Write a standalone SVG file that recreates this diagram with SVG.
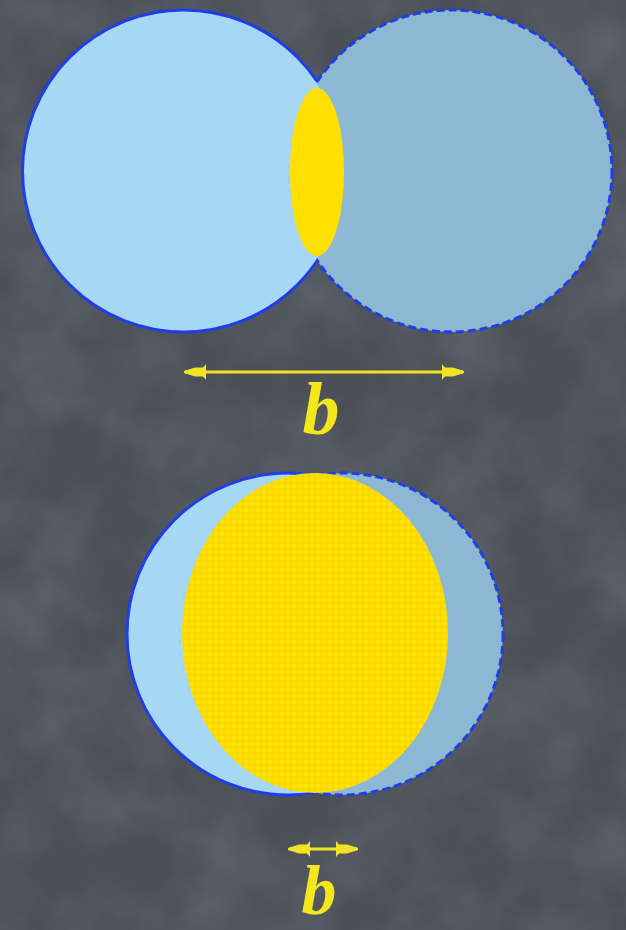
<svg xmlns="http://www.w3.org/2000/svg" width="626" height="930" viewBox="0 0 626 930">
  <style>
    .c-left { fill: #a6d7f3; stroke: #1f3ee8; stroke-width: 3; }
    .c-right { fill: #8cb8d4; stroke: #1f3ee8; stroke-width: 3; stroke-dasharray: 8 4; }
    .fill-left { fill: #a6d7f3; }
    .lens { fill: #ffe000; }
    .arrow { stroke: #f2e424; stroke-width: 3; fill: none; marker-start: url(#head); marker-end: url(#head); }
    .label { font-family: "Liberation Serif", "DejaVu Serif", serif; font-style: italic; font-weight: bold; font-size: 74px; fill: #f4e81c; text-anchor: middle; }
  </style>
  <defs>
    <marker id="head" viewBox="0 0 22 16" refX="21" refY="8" markerWidth="22" markerHeight="16" markerUnits="userSpaceOnUse" orient="auto-start-reverse">
      <path d="M0,0 L3,3.5 L11,3.5 L22,7 L22,9 L11,12.5 L3,12.5 L0,16 Z" fill="#f2e424"/>
    </marker>
    <filter id="noise" x="0" y="0" width="100%" height="100%">
      <feTurbulence type="fractalNoise" baseFrequency="0.012" numOctaves="4" seed="7"/>
      <feColorMatrix type="matrix" values="0 0 0 0 1  0 0 0 0 1  0 0 0 0 1  0.2 0 0 0 -0.07"/>
    </filter>
    <pattern id="check" width="6" height="6" patternUnits="userSpaceOnUse">
      <rect width="6" height="6" fill="#ffe200"/>
      <path d="M3,0 L6,3 L3,6 L0,3 Z" fill="#f5d200" opacity="0.6"/>
    </pattern>
    <clipPath id="clipTopRight"><circle cx="451" cy="171" r="163"/></clipPath>
    <clipPath id="clipBotRight"><circle cx="342" cy="634" r="163"/></clipPath>
  </defs>

  <rect width="626" height="930" fill="#4b4f58"/>
  <rect width="626" height="930" filter="url(#noise)"/>

  <g id="top-circle-left">
    <circle class="c-left" cx="183.5" cy="171" r="161"/>
  </g>
  <g id="top-circle-right">
    <circle class="c-right" cx="451" cy="171" r="161"/>
    <circle class="fill-left" cx="183.5" cy="171" r="159.5" clip-path="url(#clipTopRight)"/>
  </g>
  <g id="top-overlap">
    <ellipse class="lens" cx="317" cy="172" rx="27" ry="84"/>
  </g>

  <g id="bottom-circle-left">
    <circle class="c-left" cx="288" cy="634" r="161"/>
  </g>
  <g id="bottom-circle-right">
    <circle class="c-right" cx="342" cy="634" r="161"/>
    <circle class="fill-left" cx="288" cy="634" r="159.5" clip-path="url(#clipBotRight)"/>
  </g>
  <g id="bottom-overlap">
    <ellipse cx="315" cy="633" rx="133" ry="160" fill="url(#check)"/>
  </g>

  <g id="connectors">
    <line class="arrow" x1="185" y1="372" x2="463" y2="372"/>
    <line class="arrow" x1="289" y1="849" x2="357" y2="849"/>
  </g>

  <g id="label-top"><text class="label" x="321" y="434">b</text></g>
  <g id="label-bottom"><text class="label" x="319" y="914" style="font-size:70px">b</text></g>
</svg>
